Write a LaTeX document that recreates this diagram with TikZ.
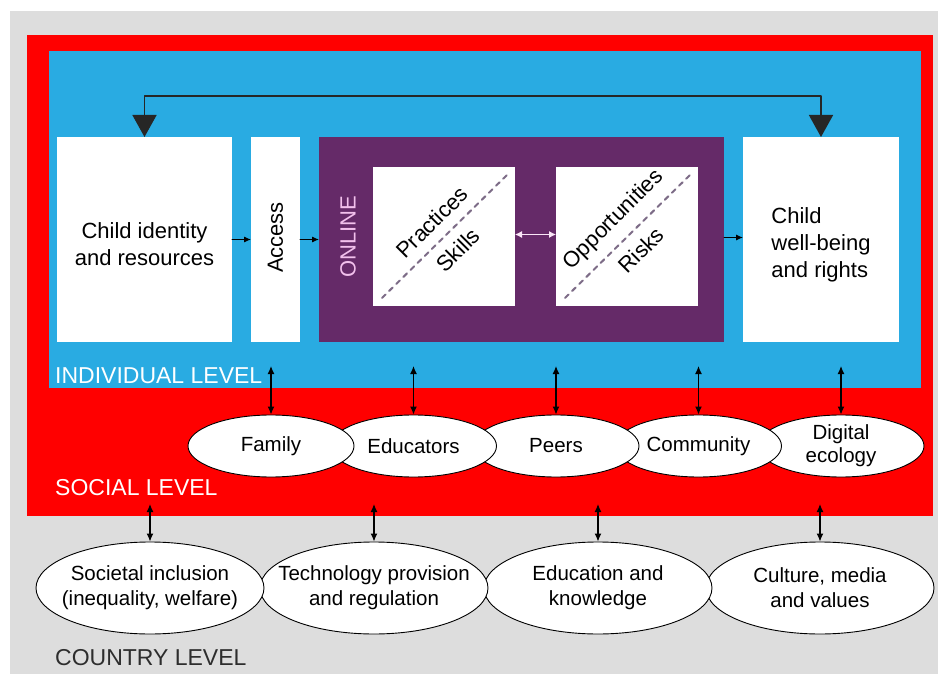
\documentclass[tikz,border=0pt]{standalone}
\usepackage{fontspec}
\setmainfont{Liberation Sans}
\usetikzlibrary{arrows.meta,shapes.geometric}

\definecolor{countrygray}{RGB}{221,221,221}
\definecolor{socialred}{RGB}{255,0,0}
\definecolor{indblue}{RGB}{41,171,226}
\definecolor{onlinepurple}{RGB}{101,42,104}
\definecolor{onlinepink}{RGB}{242,192,236}
\definecolor{diaggray}{RGB}{125,108,135}
\definecolor{leveldark}{RGB}{45,45,45}

\begin{document}
\begin{tikzpicture}[x=1pt,y=-1pt,line cap=round,line join=round,
  panel/.style 2 args={minimum width=#1,minimum height=#2,anchor=north west,inner sep=0pt,outer sep=0pt},
  boxtxt/.style={font=\fontsize{22}{27}\selectfont,inner sep=0pt},
  leveltxt/.style={font=\fontsize{23}{27}\selectfont,anchor=west,inner sep=0pt},
  soc/.style={ellipse,draw=black,line width=0.9pt,fill=white,minimum width=166pt,minimum height=62pt,inner xsep=-25pt,inner ysep=-8pt,align=center,font=\fontsize{20.5}{23}\selectfont},
  ctry/.style={ellipse,draw=black,line width=0.9pt,fill=white,minimum width=228pt,minimum height=92pt,inner xsep=-25pt,inner ysep=-8pt,align=center,font=\fontsize{20.5}{25}\selectfont},
  smallarr/.style={-{Latex[length=7pt,width=6pt]},line width=1pt},
  updown/.style={{Latex[length=8pt,width=7pt]}-{Latex[length=8pt,width=7pt]},line width=1.2pt,black}]
\useasboundingbox (0,0) rectangle (938,674);

% levels
\node[panel={928pt}{663pt},fill=countrygray] (country) at (10,11) {};
\node[panel={906pt}{481pt},fill=socialred] (social) at (27,35) {};
\node[panel={872pt}{337pt},fill=indblue] (indiv) at (49,51) {};

% individual level boxes
\node[panel={175pt}{205pt},fill=white] (child) at (57,137) {};
\node[panel={49pt}{205pt},fill=white] (access) at (251,137) {};
\node[panel={405pt}{205pt},fill=onlinepurple] (online) at (319,137) {};
\node[panel={142pt}{139pt},fill=white] (prac) at (373,167) {};
\node[panel={142pt}{139pt},fill=white] (opp) at (556,167) {};
\node[panel={156pt}{205pt},fill=white] (wellb) at (743,137) {};

\node[boxtxt,align=center] (childtxt) at ([yshift=-5pt]child.center) {Child identity\\and resources};
\node[boxtxt,rotate=90] (accesstxt) at ([yshift=2pt]access.center) {Access};
\node[boxtxt,rotate=90,text=onlinepink] (onlinetxt) at (348,237) {ONLINE};
\node[boxtxt,align=left] (wellbtxt) at ([yshift=-5pt]wellb.center) {Child\\well-being\\and rights};

% diagonals
\draw[diaggray,line width=2pt,dash pattern=on 5pt off 5pt] ([shift={(9pt,8pt)}]prac.south west) -- ([shift={(-6pt,-6pt)}]prac.north east);
\draw[diaggray,line width=2pt,dash pattern=on 5pt off 5pt] ([shift={(9pt,8pt)}]opp.south west) -- ([shift={(-6pt,-6pt)}]opp.north east);
\node[boxtxt,rotate=45] (practxt) at ([shift={(-12pt,14.5pt)}]prac.center) {Practices};
\node[boxtxt,rotate=45] (skilltxt) at ([shift={(14pt,-13.5pt)}]prac.center) {Skills};
\node[boxtxt,rotate=45] (opptxt) at ([shift={(-13pt,16.5pt)}]opp.center) {Opportunities};
\node[boxtxt,rotate=45] (risktxt) at ([shift={(14pt,-13.5pt)}]opp.center) {Risks};

% arrows inside individual level
\draw[smallarr] (child.east) -- (access.west);
\draw[smallarr] (access.east) -- (online.west);
\draw[{Latex[length=7pt,width=7pt]}-{Latex[length=7pt,width=7pt]},line width=1pt,onlinepink!40!white] ([yshift=2pt]prac.east) -- ([yshift=2pt]opp.west);
\draw[smallarr] ([yshift=2pt]online.east) -- ([yshift=2pt]wellb.west);
\coordinate (rail) at (0,96);
\draw[{Triangle[length=22pt,width=24pt]}-{Triangle[length=22pt,width=24pt]},line width=1.6pt,black!85]
  (child.north) -- (child.north |- rail) -- (wellb.north |- rail) -- (wellb.north);

% level names
\node[leveltxt,text=white] (indname) at (55,376) {INDIVIDUAL LEVEL};
\node[leveltxt,text=white] (socname) at (55,488) {SOCIAL LEVEL};
\node[leveltxt,text=leveldark] (ctryname) at (55,658) {COUNTRY LEVEL};

% social level
\node[soc] (dig) at (841,446) {Digital\\ecology};
\node[soc] (comm) at (698.5,446) {Community};
\node[soc] (peer) at (556,446) {Peers};
\node[soc] (educ) at (413.5,446) {Educators};
\node[soc] (fam) at (271,446) {Family};
\coordinate (indlink) at (0,366);
\foreach \e in {fam,educ,peer,comm,dig}
\draw[updown] (\e.north) -- (\e.north |- indlink);

% country level
\node[ctry] (cult) at (820,588) {Culture, media\\and values};
\node[ctry] (know) at (598,588) {Education and\\knowledge};
\node[ctry] (tech) at (374,588) {Technology provision\\and regulation};
\node[ctry] (incl) at (150,588) {Societal inclusion\\(inequality, welfare)};
\coordinate (soclink) at (0,504);
\foreach \e in {incl,tech,know,cult}
\draw[updown] (\e.north) -- (\e.north |- soclink);
\end{tikzpicture}
\end{document}
